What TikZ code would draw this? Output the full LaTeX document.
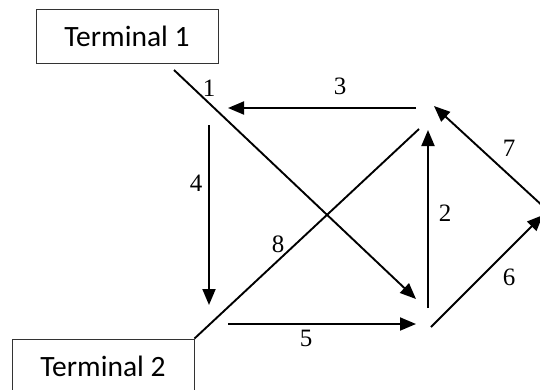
\documentclass[tikz,border=0pt]{standalone}
\usepackage{fontspec}
\setmainfont{Liberation Serif}
\newfontfamily\termfont{Carlito}
\usetikzlibrary{arrows.meta}
\begin{document}
\begin{tikzpicture}[x=1pt,y=-1pt,
  term/.style={draw=black!80,line width=0.9pt,inner sep=0pt,font=\termfont\fontsize{29.5}{31}\selectfont},
  edge/.style={line width=1.9pt,draw=black},
  arr/.style={edge,-{Triangle[length=16pt,width=13pt]}},
  lbl/.style={font=\fontsize{25}{27}\selectfont,inner sep=0pt}]
\useasboundingbox (0,0) rectangle (540,389);
\clip (0,0) rectangle (540,389);
% terminals
\node[term,minimum width=182pt,minimum height=54pt] (t1) at (127,36) {Terminal 1};
\node[term,minimum width=182pt,minimum height=54pt] (t2) at (103,366) {Terminal 2};
% connector ends
\coordinate (a1) at (174,70);  \coordinate (b1) at (416,299);
\coordinate (a3) at (416,108); \coordinate (b3) at (228,108);
\coordinate (a4) at (209,125); \coordinate (b4) at (209,305);
\coordinate (a5) at (228,324); \coordinate (b5) at (416,324);
\coordinate (a8) at (t2.north east); \coordinate (b8) at (419,129);
\coordinate (a2) at (428,308); \coordinate (b2) at (428,130);
\coordinate (a6) at (431,327); \coordinate (b6) at (543,215);
\coordinate (a7) at (546,209); \coordinate (b7) at (434,106);
\draw[arr] (a1) -- (b1);
\draw[arr] (a3) -- (b3);
\draw[arr] (a4) -- (b4);
\draw[arr] (a5) -- (b5);
\draw[edge] (a8) -- (b8);
\draw[arr] (a2) -- (b2);
\draw[arr] (a6) -- (b6);
\draw[arr] (a7) -- (b7);
% labels
\node[lbl] (l1) at (209,88) {1};
\node[lbl] (l3) at (340,86) {3};
\node[lbl] (l4) at (196,183) {4};
\node[lbl] (l5) at (306,338) {5};
\node[lbl] (l8) at (278,244) {8};
\node[lbl] (l2) at (445,213) {2};
\node[lbl] (l6) at (509,277) {6};
\node[lbl] (l7) at (509,148) {7};
\end{tikzpicture}
\end{document}
